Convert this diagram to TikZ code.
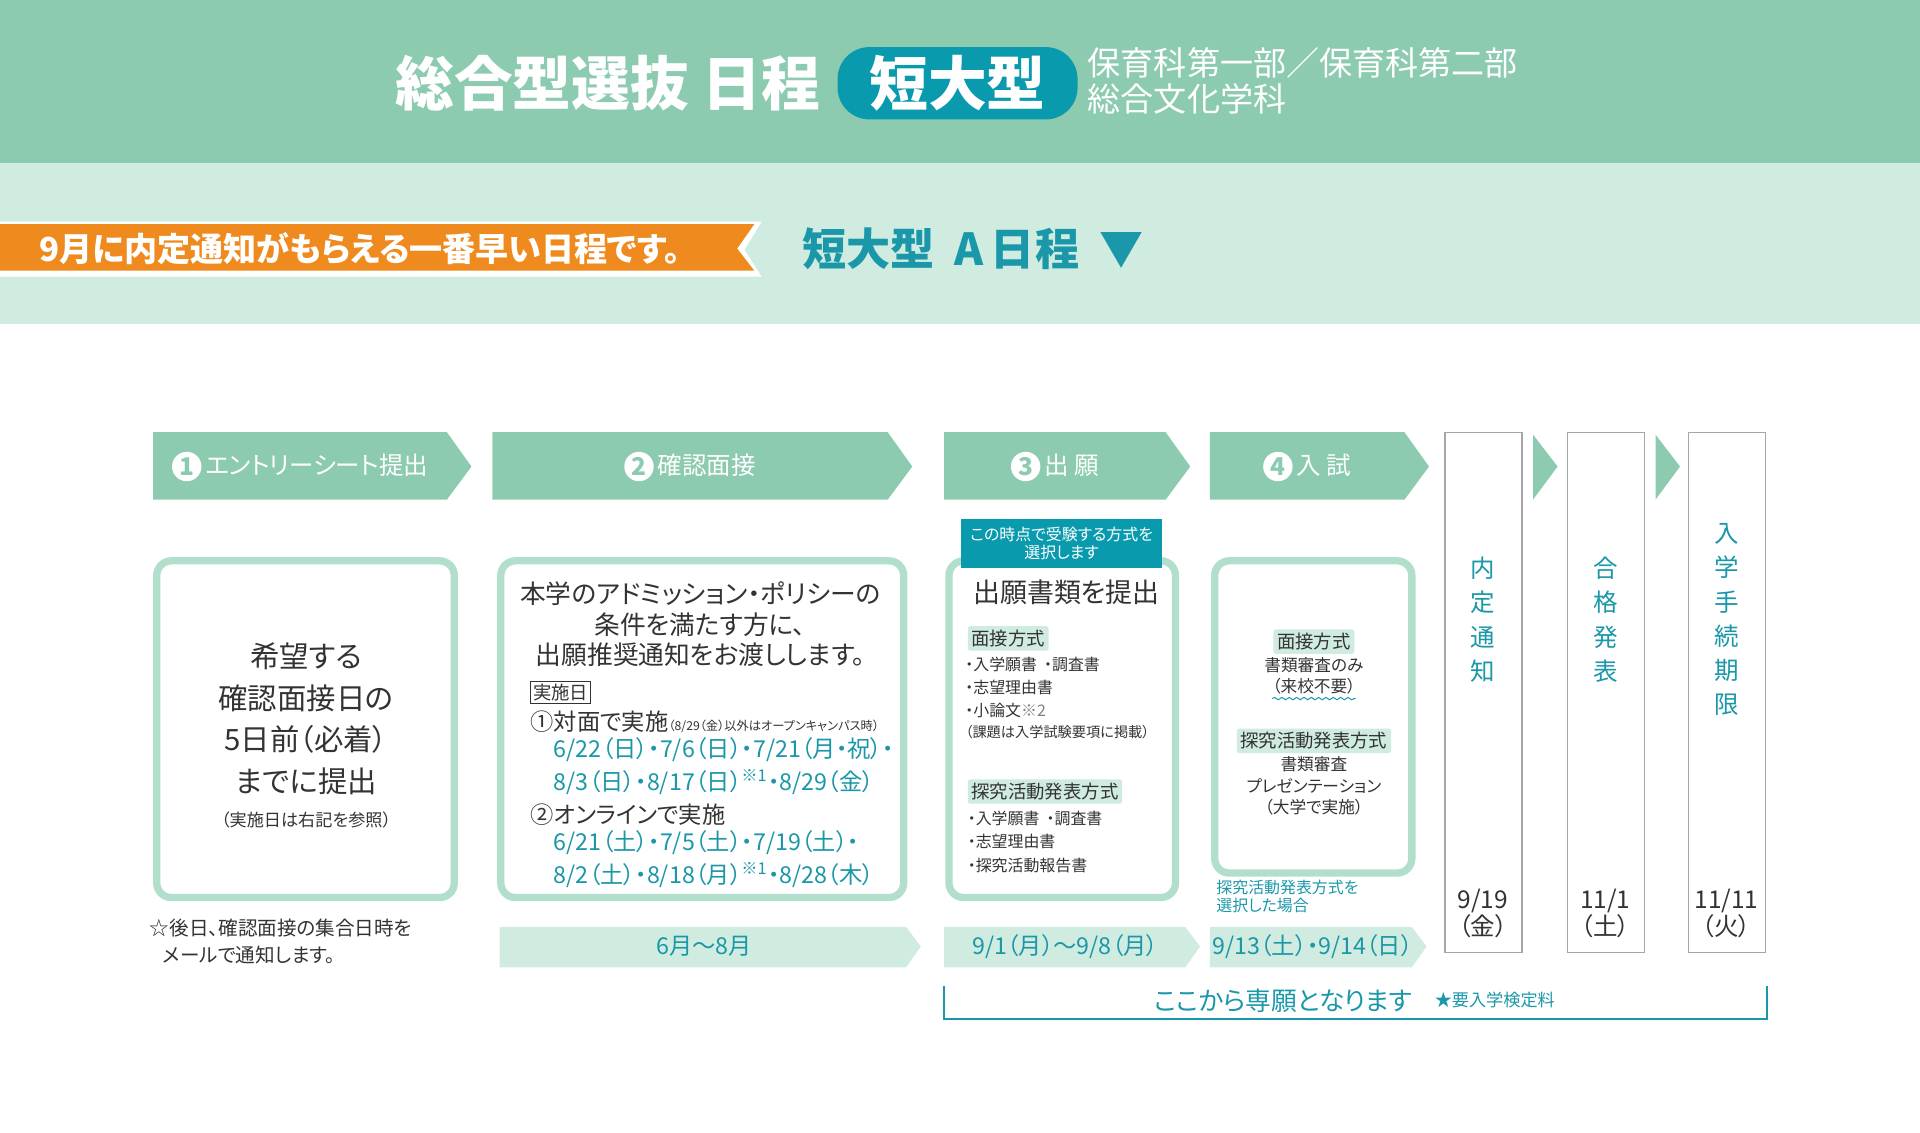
\documentclass[tikz,border=0pt]{standalone}
\usepackage{fontspec}
\setmainfont[RawFeature=+palt]{Noto Sans CJK JP}
\usetikzlibrary{positioning,decorations.pathmorphing}
\definecolor{band}{HTML}{8CCBB0}
\definecolor{pale}{HTML}{D0EBE0}
\definecolor{rim}{HTML}{B2DFCC}
\definecolor{teal}{HTML}{1A97A8}
\definecolor{tealbox}{HTML}{0A9AAE}
\definecolor{orng}{HTML}{EF8A1E}
\definecolor{ink}{HTML}{333333}
\newcommand{\fs}[1]{\fontsize{#1}{#1}\selectfont}
\newcommand{\stepar}[4]{% x1 x2 name text
  \fill[band] (#1,353) -- (#2-20,353) -- (#2,381) -- (#2-20,408) -- (#1,408) -- cycle;
  \node[steptext] (#3) at ({(#1+#2-20)/2},381) {#4};}
\newcommand{\num}[1]{\tikz[baseline=-0.6ex]\node[circle,fill=white,text=band,inner sep=0.6pt,minimum size=12pt,font=\fs{10}\bfseries]{#1};\,}
\begin{document}
\begin{tikzpicture}[x=0.5pt,y=-0.5pt]
    \tikzset{
        steptext/.style = {text=white, font=\fs{10}},
        card/.style = {draw=rim, line width=3pt, fill=white, rounded corners=6pt},
        tag/.style = {fill=pale, inner sep=1.5pt, rounded corners=1pt, font=\fs{7.5}, text=ink},
        small/.style = {font=\fs{6.5}, text=ink, align=left, inner sep=0pt, anchor=north west},
        vbox/.style = {draw=gray!70, fill=white, line width=0.6pt},
        vtext/.style = {text=teal, font=\fs{10}, align=center, inner sep=0pt},
        vdate/.style = {text=ink, font=\fs{10}, align=center, inner sep=0pt}
    }
    \useasboundingbox (0,0) rectangle (1568,925);

    % bands
    \fill[band] (0,0) rectangle (1568,133);
    \fill[pale] (0,133) rectangle (1568,265);
    \node[text=white, font=\fs{24}\bfseries, anchor=east] (title) at (677,68) {総合型選抜 日程};
    \node[fill=tealbox, rounded corners=13pt, text=white, font=\fs{24}\bfseries,
          minimum width=98pt, minimum height=27pt] (kind) at (782,68) {短大型};
    \node[text=white, font=\fs{13.5}, anchor=west, align=left, inner sep=0pt] (dept) at (888,66)
        {保育科第一部／保育科第二部\\[1pt]総合文化学科};

    % orange banner
    \fill[white] (0,181) -- (622,181) -- (608,204) -- (622,226) -- (0,226) -- cycle;
    \fill[orng] (0,183) -- (616,183) -- (602,203) -- (616,221) -- (0,221) -- cycle;
    \node[text=white, font=\fs{13.5}\bfseries, anchor=west] (early) at (25,203)
        {9月に内定通知がもらえる一番早い日程です。};
    \node[text=teal, font=\fs{18}\bfseries, anchor=west] (typea) at (648,203) {短大型\ \ A\,日程\ \ ▼};

    % step arrows
    \stepar{125}{385}{s1}{\num{1}エントリーシート提出}
    \stepar{402}{745}{s2}{\num{2}確認面接}
    \stepar{771}{972}{s3}{\num{3}出 願}
    \stepar{988}{1167}{s4}{\num{4}入 試}
    \fill[band] (1252,355) -- (1272,381) -- (1252,408) -- cycle;
    \fill[band] (1352,355) -- (1372,381) -- (1352,408) -- cycle;

    % vertical boxes
    \foreach \x in {1180,1280,1379}
        \draw[vbox] (\x,353) rectangle (\x+63,778);
    \node[vtext] (v1) at (1211,506) {内\\[4pt]定\\[4pt]通\\[4pt]知};
    \node[vtext] (v2) at (1311,506) {合\\[4pt]格\\[4pt]発\\[4pt]表};
    \node[vtext] (v3) at (1410,506) {入\\[4pt]学\\[4pt]手\\[4pt]続\\[4pt]期\\[4pt]限};
    \node[vdate] (d1) at (1211,746) {9/19\\（金）};
    \node[vdate] (d2) at (1311,746) {11/1\\（土）};
    \node[vdate] (d3) at (1410,746) {11/11\\（火）};

    % cards
    \draw[card] (128,458) rectangle (371,733);
    \node[text=ink, font=\fs{12}, align=center] (c1) at (250,587)
        {希望する\\[5pt]確認面接日の\\[5pt]5日前（必着）\\[5pt]までに提出};
    \node[text=ink, font=\fs{7}] (c1n) [below=0pt of c1] {（実施日は右記を参照）};

    \draw[card] (409,458) rectangle (738,733);
    \node[text=ink, font=\fs{10.5}, align=center] (c2) at (572,510)
        {本学のアドミッション・ポリシーの\\[2pt]条件を満たす方に、\\[2pt]出願推奨通知をお渡しします。};
    \node[draw=ink, inner sep=1pt, text=ink, font=\fs{7.5}, anchor=north west] (day) at (433,556) {実施日};
    \node[text=ink, font=\fs{9.5}, anchor=north west, inner sep=0pt] (face) at (433,580)
        {①対面で実施{\fs{5}（8/29（金）以外はオープンキャンパス時）}};
    \node[text=teal, font=\fs{9.5}, anchor=north west, inner sep=0pt, align=left] (faced) at (452,602)
        {6/22（日）・7/6（日）・7/21（月・祝）・\\[2pt]8/3（日）・8/17（日）\textsuperscript{※1}・8/29（金）};
    \node[text=ink, font=\fs{9.5}, anchor=north west, inner sep=0pt] (online) at (433,656) {②オンラインで実施};
    \node[text=teal, font=\fs{9.5}, anchor=north west, inner sep=0pt, align=left] (onlined) at (452,678)
        {6/21（土）・7/5（土）・7/19（土）・\\[2pt]8/2（土）・8/18（月）\textsuperscript{※1}・8/28（木）};

    \draw[card] (775,458) rectangle (960,733);
    \node[fill=tealbox, text=white, font=\fs{6.5}, align=center, minimum width=82pt, minimum height=19pt] (when) at (867,444)
        {この時点で受験する方式を\\[1pt]選択します};
    \node[text=ink, font=\fs{11}] (apply) at (871,484) {出願書類を提出};
    \node[tag, anchor=north west] (m1) at (790,511) {面接方式};
    \node[small] (m1l) at (788,536) {・入学願書\ \ ・調査書\\[3pt]・志望理由書\\[3pt]・小論文{\color{gray}※2}\\[2pt]{\fs{5.8}（課題は入学試験要項に掲載）}};
    \node[tag, anchor=north west] (m2) at (790,636) {探究活動発表方式};
    \node[small] (m2l) at (790,662) {・入学願書\ \ ・調査書\\[3pt]・志望理由書\\[3pt]・探究活動報告書};

    \draw[card] (992,458) rectangle (1153,713);
    \node[tag] (e1) at (1073,524) {面接方式};
    \node[text=ink, font=\fs{6.8}, align=center, inner sep=0pt] (e1l) [below=1pt of e1] {書類審査のみ\\[2pt]（来校不要）};
    \draw[teal, line width=0.4pt, decorate, decoration={snake, amplitude=0.5pt, segment length=3pt}]
        ([xshift=-17pt,yshift=-1.5pt]e1l.south) -- ([xshift=17pt,yshift=-1.5pt]e1l.south);
    \node[tag] (e2) at (1073,605) {探究活動発表方式};
    \node[text=ink, font=\fs{6.8}, align=center, inner sep=0pt] (e2l) [below=1pt of e2] {書類審査\\[2pt]プレゼンテーション\\[2pt]（大学で実施）};
    \node[text=teal, font=\fs{6.5}, align=left, inner sep=0pt, anchor=north west] (sel) at (993,718) {探究活動発表方式を\\[1pt]選択した場合};

    % notes and date bars
    \node[text=ink, font=\fs{8}, align=left, inner sep=0pt, anchor=north west] (later) at (122,750)
        {☆後日、確認面接の集合日時を\\[3pt]\ \ \ メールで通知します。};
    \fill[pale] (408,757) -- (740,757) -- (752,773) -- (740,790) -- (408,790) -- cycle;
    \fill[pale] (771,757) -- (968,757) -- (980,773) -- (968,790) -- (771,790) -- cycle;
    \fill[pale] (988,757) -- (1153,757) -- (1165,773) -- (1153,790) -- (988,790) -- cycle;
    \node[text=teal, font=\fs{9.5}] (p2) at (575,773) {6月～8月};
    \node[text=teal, font=\fs{9.5}] (p3) at (870,773) {9/1（月）～9/8（月）};
    \node[text=teal, font=\fs{9.5}] (p4) at (1072,773) {9/13（土）・9/14（日）};

    % bracket
    \coordinate (bl) at (771,805);
    \coordinate (br) at (1443,805);
    \draw[teal, line width=0.8pt] (bl) -- ++(0,27) -| (br);
    \node[text=teal, font=\fs{10.5}] (only) at (1048,817) {ここから専願となります};
    \node[text=teal, font=\fs{7}, anchor=west] (fee) [right=2pt of only] {★要入学検定料};
\end{tikzpicture}
\end{document}
